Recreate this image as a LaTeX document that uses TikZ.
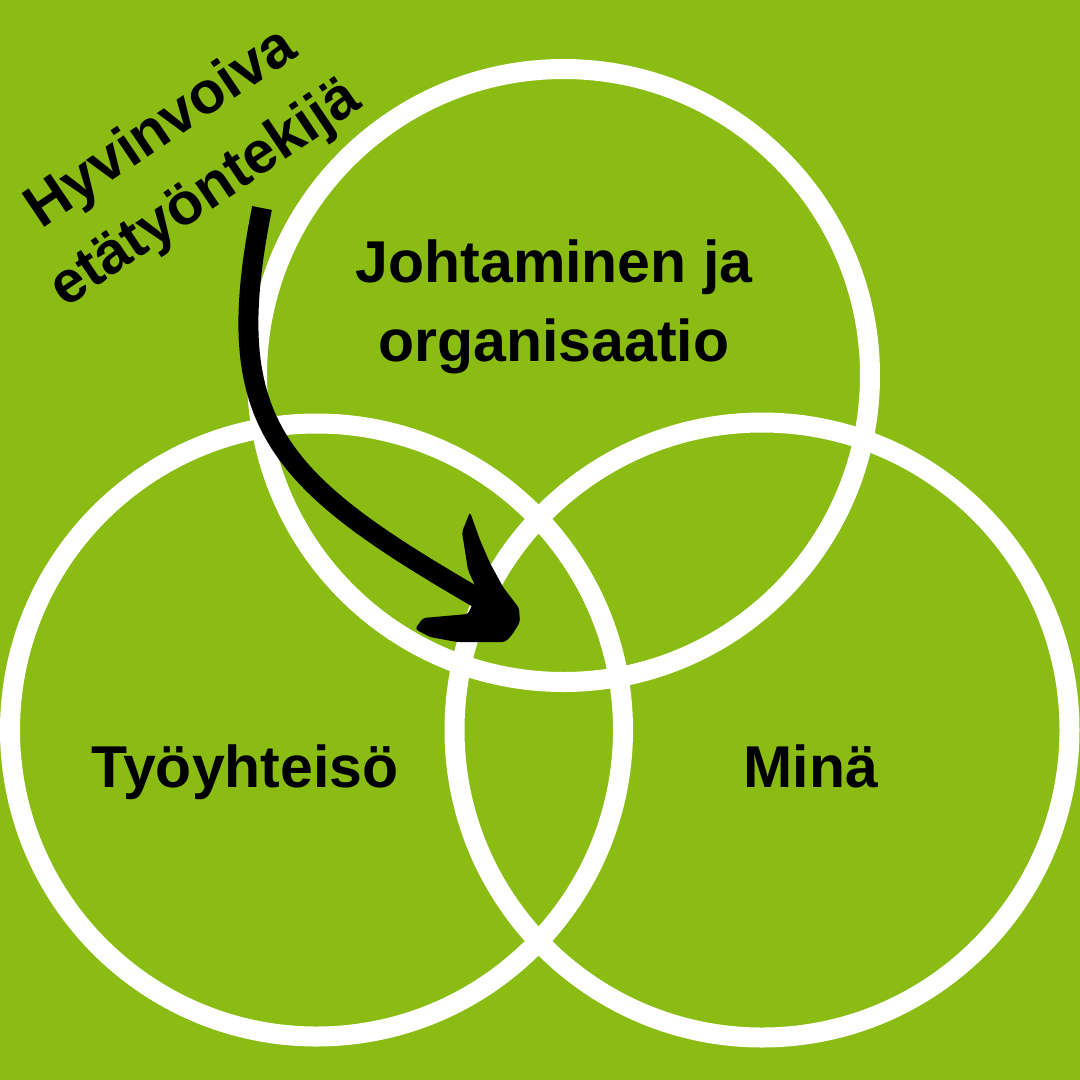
\documentclass[tikz,border=0pt]{standalone}
\usepackage{fontspec}
\setmainfont{Liberation Sans}
\definecolor{bggreen}{RGB}{139,188,20}
\begin{document}
\begin{tikzpicture}[x=1pt,y=-1pt,
  ring/.style={draw=white,line width=20pt},
  label/.style={font=\fontsize{59}{79}\selectfont\bfseries,text=black,inner sep=0pt},
  shaft/.style={draw=black,line width=20pt},
  headfill/.style={fill=black,rounded corners=3pt}]
\fill[bggreen] (0,0) rectangle (1080,1080);
\path[use as bounding box] (0,0) rectangle (1080,1080);
% circles
\draw[ring] (563.5,375.5) circle[radius=306.5pt];
\draw[ring] (316.5,730) circle[radius=306.5pt];
\draw[ring] (762,730) circle[radius=307.5pt];
% labels
\node[label,align=center] (johto) at (554,307) {Johtaminen ja\\organisaatio};
\node[label,anchor=base] (tyo) at (245,787) {Työyhteisö};
\node[label,anchor=base] (mina) at (811,787) {Minä};
\node[label,align=center,rotate=34] (hyv) at (184,162) {Hyvinvoiva\\etätyöntekijä};
% arrow
\coordinate (as) at (262,208);
\coordinate (ae) at (495,608);
\draw[shaft] (as) .. controls (218,428) and (277,483) .. (ae);
\fill[headfill] (470,512) -- (480,540) -- (490,563) -- (503,587) -- (519,608) -- (520,622)
  -- (512,635) -- (505,642) -- (457,642) -- (430,637) -- (415,629) -- (423,618)
  -- (468,614) -- (478,592) -- (468,570) -- (462,532) -- cycle;
\end{tikzpicture}
\end{document}
